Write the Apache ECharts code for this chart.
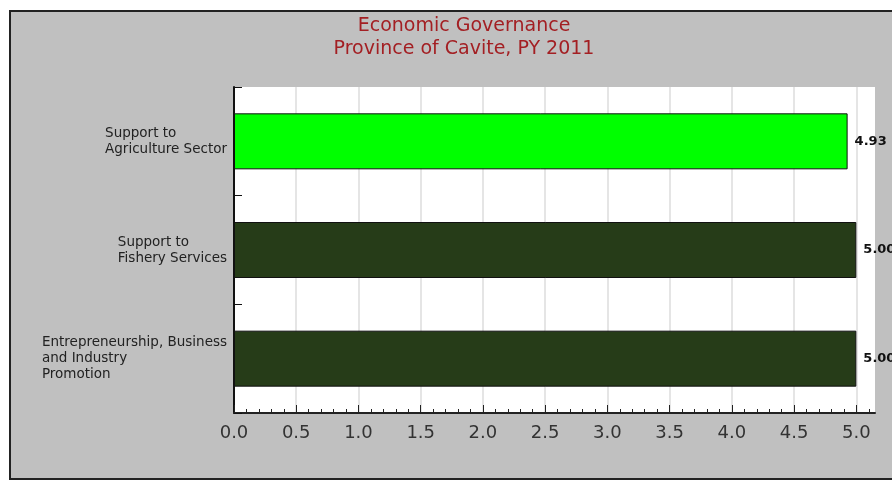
<!DOCTYPE html>
<html>
<head>
<meta charset="utf-8">
<script src="https://cdn.jsdelivr.net/npm/echarts@6.0.0/dist/echarts.min.js"></script>
<style>
  html, body { margin: 0; padding: 0; background: #fff; }
  #chart { width: 892px; height: 481px; }
</style>
</head>
<body>
<div id="chart"></div>
<script>
// --- Data ---
const categories = [
    ['Support to', 'Agriculture Sector'],
    ['Support to', 'Fishery Services'],
    ['Entrepreneurship, Business', 'and Industry', 'Promotion']
];
const scores = [4.93, 5.00, 5.00];
const barColors = ['#00ff00', '#263c18', '#263c18'];
const majorTicks = [0, 0.5, 1, 1.5, 2, 2.5, 3, 3.5, 4, 4.5, 5];

// minor ticks every 0.1 up to 5.1
const minorTicks = [];
for (let i = 0; i <= 51; i++) minorTicks.push(i / 10);

const X_MAX = 5.15;
const FONT = 'DejaVu Sans';

const chart = echarts.init(document.getElementById('chart'));

chart.setOption({
    backgroundColor: '#ffffff',
    animation: false,
    title: {
        text: 'Economic Governance\nProvince of Cavite, PY 2011',
        left: 459,
        textAlign: 'center',
        top: 10,
        textStyle: {
            color: '#a31f23',
            fontFamily: FONT,
            fontSize: 19,
            fontWeight: 'normal',
            lineHeight: 23,
            align: 'center'
        }
    },
    graphic: [{
        type: 'rect',
        z: -10,
        shape: { x: 10, y: 11, width: 900, height: 468 },
        style: { fill: '#c0c0c0', stroke: '#222', lineWidth: 2 }
    }],
    grid: {
        left: 234, right: 17, top: 87, bottom: 68,
        show: true, backgroundColor: '#ffffff', borderWidth: 0
    },
    xAxis: [{
        type: 'value',
        min: 0, max: X_MAX,
        interval: 0.5,
        axisLine: { show: true, lineStyle: { color: '#222', width: 2 } },
        axisTick: { show: true, inside: true, length: 8, customValues: majorTicks, lineStyle: { color: '#222', width: 1 } },
        axisLabel: {
            customValues: majorTicks,
            formatter: (v) => v.toFixed(1),
            color: '#333', fontFamily: FONT, fontSize: 18, margin: 11
        },
        splitLine: { show: true, lineStyle: { color: '#dcdcdc', width: 1.5 } }
    }, {
        type: 'value',
        position: 'bottom',
        min: 0, max: X_MAX,
        interval: 0.1,
        axisLine: { show: false },
        axisTick: { show: true, inside: true, length: 4, customValues: minorTicks, lineStyle: { color: '#222', width: 1 } },
        axisLabel: { show: false },
        splitLine: { show: false }
    }],
    yAxis: {
        type: 'category',
        inverse: true,
        data: categories.map(lines => lines.map(l => '{a|' + l + '}').join('\n')),
        axisLine: { show: true, lineStyle: { color: '#111', width: 2 } },
        axisTick: { show: true, inside: true, length: 8, lineStyle: { color: '#111', width: 1 } },
        axisLabel: {
            margin: 7,
            color: '#222',
            fontFamily: FONT,
            fontSize: 13.5,
            lineHeight: 16,
            rich: {
                a: { align: 'left', color: '#222', fontFamily: FONT, fontSize: 13.5, lineHeight: 16 }
            }
        },
        splitLine: { show: false }
    },
    series: [{
        type: 'bar',
        xAxisIndex: 0,
        barWidth: 56,
        data: scores.map((v, i) => ({
            value: v,
            itemStyle: { color: barColors[i], borderColor: '#111', borderWidth: 1 }
        })),
        label: {
            show: true,
            position: 'right',
            distance: 7,
            formatter: (p) => p.value.toFixed(2),
            color: '#111',
            fontFamily: FONT,
            fontSize: 13,
            fontWeight: 'bold'
        }
    }]
});
</script>
</body>
</html>
